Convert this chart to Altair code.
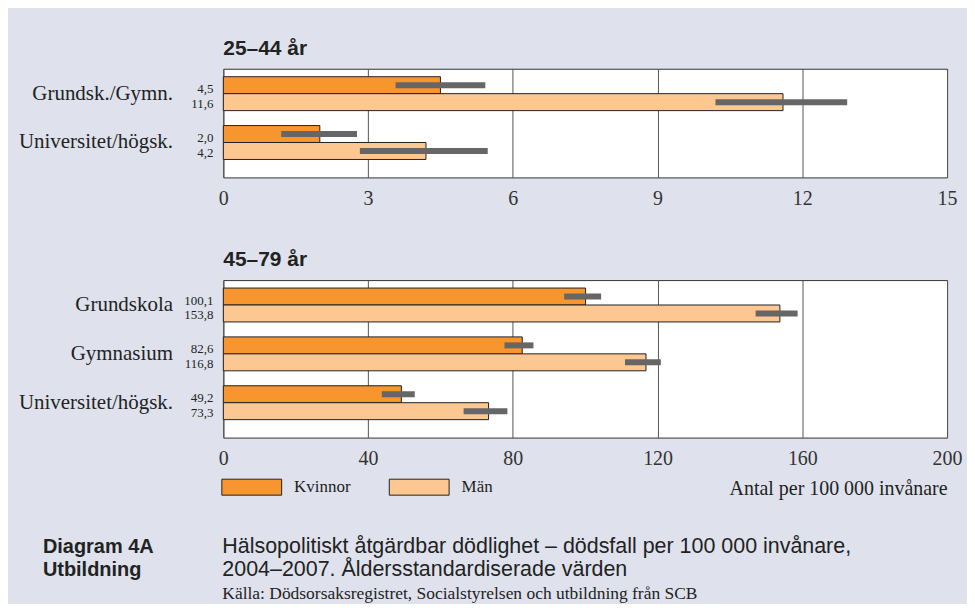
import altair as alt
import pandas as pd

# ---------------- data ----------------
sexes = ["Kvinnor", "Män"]
sex_colors = ["#f7952f", "#fdc791"]

title1 = "25–44 år"
cats1 = ["Grundsk./Gymn.", "Universitet/högsk."]
kvinnor1 = [4.5, 2.0]
man1 = [11.6, 4.2]
kvinnor1_lo = [3.57, 1.20]
kvinnor1_hi = [5.43, 2.77]
man1_lo = [10.20, 2.83]
man1_hi = [12.93, 5.48]
ticks1 = [0, 3, 6, 9, 12, 15]

title2 = "45–79 år"
cats2 = ["Grundskola", "Gymnasium", "Universitet/högsk."]
kvinnor2 = [100.1, 82.6, 49.2]
man2 = [153.8, 116.8, 73.3]
kvinnor2_lo = [94.2, 77.7, 43.8]
kvinnor2_hi = [104.4, 85.7, 52.9]
man2_lo = [147.1, 111.0, 66.4]
man2_hi = [158.7, 120.9, 78.5]
ticks2 = [0, 40, 80, 120, 160, 200]

x_title = "Antal per 100 000 invånare"
caption_left = ["Diagram 4A", "Utbildning"]
caption_main = ["Hälsopolitiskt åtgärdbar dödlighet – dödsfall per 100 000 invånare,",
                "2004–2007. Åldersstandardiserade värden"]
caption_source = ["Källa: Dödsorsaksregistret, Socialstyrelsen och utbildning från SCB"]

SERIF = "Liberation Serif"
SANS = "Liberation Sans"
INK = "#222222"


def make_df(cats, k, m, klo, khi, mlo, mhi):
    rows = []
    for i, c in enumerate(cats):
        rows.append(dict(cat=c, sex=sexes[0], value=k[i], lo=klo[i], hi=khi[i]))
        rows.append(dict(cat=c, sex=sexes[1], value=m[i], lo=mlo[i], hi=mhi[i]))
    df = pd.DataFrame(rows)
    df["label"] = df["value"].map(lambda v: f"{v:.1f}".replace(".", ","))
    return df


def panel(df, cats, title, xmax, ticks, height, axis_title, extra_layers=()):
    y = alt.Y(
        "cat:N", sort=cats, title=None,
        scale=alt.Scale(paddingInner=15 / 49, paddingOuter=0.2653, align=8 / 26),
        axis=alt.Axis(labelFont=SERIF, labelFontSize=21, labelColor=INK,
                      labelPadding=51, ticks=False, domain=False,
                      minExtent=205, maxExtent=205),
    )
    yoff = alt.YOffset("sex:N", sort=sexes,
                       scale=alt.Scale(paddingInner=0, paddingOuter=0))
    axis_kw = dict(values=ticks, grid=True, gridColor="#555555", gridWidth=1,
                   domain=False, ticks=False, labelFont=SERIF, labelFontSize=20,
                   labelColor="#333333", labelPadding=11, labelFlush=False)
    if axis_title:
        axis_kw.update(title=axis_title, titleFont=SERIF, titleFontSize=20,
                       titleFontWeight="normal", titleColor=INK,
                       titleAnchor="end", titlePadding=10)
    else:
        axis_kw.update(title=None)
    x = alt.X("value:Q", scale=alt.Scale(domain=[0, xmax], nice=False, zero=True),
              axis=alt.Axis(**axis_kw))
    color = alt.Color(
        "sex:N", sort=sexes, scale=alt.Scale(domain=sexes, range=sex_colors),
        legend=alt.Legend(
            title=None, orient="none", direction="horizontal",
            legendX=-2, legendY=389,
            symbolType="M-1,-0.2667H1V0.2667H-1Z", symbolSize=3600,
            symbolStrokeColor=INK, symbolStrokeWidth=1, symbolOpacity=1,
            labelFont=SERIF, labelFontSize=17, labelColor=INK,
            labelOffset=12, columnPadding=36,
        ),
    )
    base = alt.Chart(df)
    bars = base.mark_bar(stroke=INK, strokeWidth=1).encode(
        x=x, y=y, yOffset=yoff, color=color)
    err = base.mark_rule(strokeWidth=6, color="#666666", strokeCap="butt").encode(
        x="lo:Q", x2="hi:Q", y=y, yOffset=yoff)
    lab_k = base.transform_filter(alt.datum.sex == sexes[0]).mark_text(
        align="right", baseline="middle", font=SERIF, fontSize=13, color=INK, dy=4
    ).encode(x=alt.value(-10), y=y, yOffset=yoff, text="label:N")
    lab_m = base.transform_filter(alt.datum.sex == sexes[1]).mark_text(
        align="right", baseline="middle", font=SERIF, fontSize=13, color=INK, dy=2
    ).encode(x=alt.value(-10), y=y, yOffset=yoff, text="label:N")
    layers = [bars, err, lab_k, lab_m] + list(extra_layers)
    return alt.layer(*layers).properties(
        width=726, height=height,
        title=alt.TitleParams(title, anchor="start", frame="group", font=SANS,
                              fontSize=21, fontWeight="bold", color=INK,
                              baseline="alphabetic", offset=-7),
    )


df1 = make_df(cats1, kvinnor1, man1, kvinnor1_lo, kvinnor1_hi, man1_lo, man1_hi)
df2 = make_df(cats2, kvinnor2, man2, kvinnor2_lo, kvinnor2_hi, man2_lo, man2_hi)

cap_left = alt.Chart(pd.DataFrame({"t": ["\n".join(caption_left)]})).mark_text(
    align="left", baseline="alphabetic", font=SANS, fontSize=20, fontWeight="bold",
    color=INK, lineBreak="\n", lineHeight=23
).encode(x=alt.value(-181), y=alt.value(274), text="t:N")
cap_main = alt.Chart(pd.DataFrame({"t": ["\n".join(caption_main)]})).mark_text(
    align="left", baseline="alphabetic", font=SANS, fontSize=21.5,
    color=INK, lineBreak="\n", lineHeight=23
).encode(x=alt.value(-1), y=alt.value(274), text="t:N")
cap_src = alt.Chart(pd.DataFrame({"t": caption_source})).mark_text(
    align="left", baseline="alphabetic", font=SERIF, fontSize=17.5, color=INK
).encode(x=alt.value(-1), y=alt.value(320), text="t:N")

p1 = panel(df1, cats1, title1, 15, ticks1, 109, None)
p2 = panel(df2, cats2, title2, 200, ticks2, 158, x_title,
           extra_layers=(cap_left, cap_main, cap_src))

chart = alt.vconcat(p1, p2, spacing=39).properties(
    background="#dfe2ed",
    padding={"left": 9, "top": 28, "right": 4, "bottom": 0},
).configure_view(stroke="#333333", strokeWidth=1, fill="white")

chart.save("out.html", embed_options={"renderer": "svg", "actions": False})
